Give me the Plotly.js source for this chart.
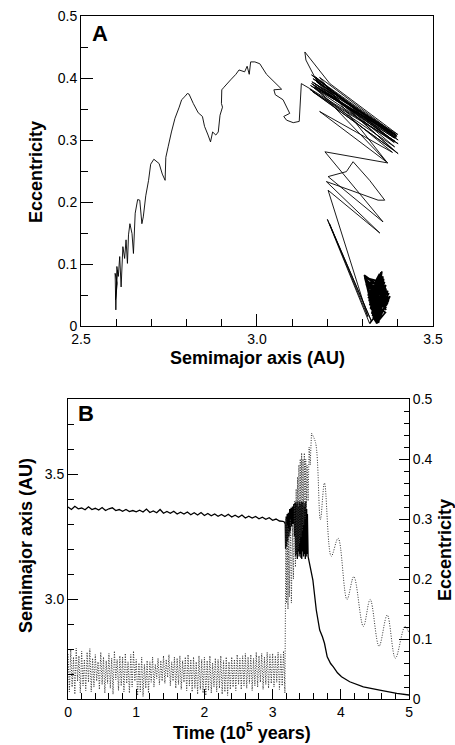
<!DOCTYPE html>
<html>
<head>
<meta charset="utf-8">
<script src="https://cdn.plot.ly/plotly-3.0.1.min.js"></script>
<style>html,body{margin:0;padding:0;background:#fff}#chart{width:455px;height:745px}</style>
</head>
<body>
<div id="chart"></div>
<script>
// ---------- Panel A: eccentricity vs semimajor axis ----------
// early libration (dense blob near a = 3.34 AU)
const blobA_a = [
 3.306,3.362,3.312,3.372,3.330,3.352,3.318,3.366,3.338,3.308,3.370,3.322,3.358,3.342,3.310,3.374,3.326,3.348,3.316,3.368,
 3.334,3.305,3.364,3.344,3.314,3.376,3.320,3.355,3.336,3.309,3.367,3.324,3.360,3.346,3.311,3.371,3.328,3.350,3.317,3.373,
 3.340,3.307,3.362,3.332,3.313,3.369,3.338,3.353,3.321,3.365,3.342,3.306,3.374,3.327,3.357,3.319,3.370,3.335,3.310,3.363,
 3.345,3.315,3.375,3.323,3.351,3.337,3.308,3.366,3.329,3.359,3.341,3.312,3.372,3.325,3.354,3.318,3.367,3.339,3.306,3.370,
 3.378,3.320
];
const blobA_e = [
 0.080,0.030,0.072,0.050,0.012,0.086,0.040,0.066,0.006,0.076,0.042,0.028,0.080,0.008,0.068,0.046,0.020,0.084,0.050,0.034,
 0.010,0.082,0.058,0.005,0.062,0.044,0.034,0.088,0.008,0.074,0.026,0.054,0.076,0.006,0.070,0.056,0.016,0.082,0.046,0.040,
 0.004,0.078,0.070,0.014,0.064,0.048,0.010,0.086,0.038,0.022,0.006,0.080,0.052,0.024,0.078,0.044,0.036,0.008,0.072,0.064,
 0.005,0.058,0.046,0.030,0.084,0.009,0.076,0.030,0.018,0.074,0.006,0.066,0.044,0.026,0.080,0.052,0.060,0.007,0.078,0.038,
 0.048,0.004
];
// transition, chaotic streaks and inward migration
const pathA_a = [
 3.320,3.200,3.325,3.206,3.315,3.202,3.349,3.197,3.344,3.363,3.320,3.273,3.254,3.202,3.358,3.193,3.372,3.178,3.385,
 3.160,3.396,3.155,3.401,3.164,3.391,3.150,3.401,3.169,3.386,3.159,3.396,3.174,3.377,3.155,3.391,3.164,3.368,3.178,3.396,
 3.162,3.401,3.158,3.385,3.168,3.398,3.152,3.390,3.166,3.380,3.156,3.400,
 3.207,3.136,3.139,3.170,3.394,3.160,3.392,3.150,
 3.126,3.120,3.103,3.084,3.076,3.093,3.074,3.052,3.048,3.070,3.027,3.008,2.994,2.982,2.978,2.972,2.965,2.949,2.940,2.925,
 2.906,2.900,2.899,2.902,2.895,2.890,2.883,2.874,2.868,2.861,2.851,2.845,2.833,2.819,2.807,2.802,2.795,2.786,2.779,2.767,
 2.757,2.748,2.741,2.739,2.731,2.722,2.707,2.698,2.692,2.684,2.677,2.673,2.667,2.661,2.654,2.649,2.645,2.639,2.635,2.632,
 2.628,2.624,2.619,2.614,2.610,2.606,2.602,2.599,2.597,2.603,2.598,2.604
];
const pathA_e = [
 0.004,0.172,0.008,0.165,0.015,0.219,0.150,0.233,0.203,0.203,0.235,0.265,0.249,0.241,0.168,0.281,0.263,0.346,0.280,
 0.385,0.308,0.405,0.300,0.397,0.289,0.382,0.278,0.394,0.311,0.399,0.305,0.383,0.313,0.391,0.303,0.386,0.265,0.401,0.308,
 0.392,0.294,0.378,0.285,0.398,0.306,0.388,0.296,0.402,0.302,0.394,0.309,
 0.391,0.442,0.429,0.395,0.304,0.389,0.298,0.383,
 0.391,0.330,0.328,0.332,0.338,0.343,0.365,0.373,0.381,0.382,0.406,0.423,0.426,0.426,0.406,0.419,0.410,0.413,0.406,0.397,
 0.385,0.381,0.359,0.353,0.340,0.313,0.308,0.313,0.297,0.308,0.322,0.338,0.344,0.359,0.374,0.375,0.370,0.365,0.353,0.335,
 0.313,0.290,0.272,0.235,0.245,0.262,0.269,0.261,0.235,0.210,0.176,0.165,0.203,0.204,0.182,0.117,0.149,0.165,0.147,0.101,
 0.139,0.109,0.128,0.063,0.112,0.080,0.096,0.026,0.085,0.069,0.042,0.090
];

// ---------- Panel B: semimajor axis vs time (solid, left axis) ----------
const timeB_a = [
 0.00,0.05,0.10,0.15,0.20,0.25,0.30,0.35,0.40,0.45,0.50,0.55,0.60,0.65,0.70,0.75,0.80,0.85,0.90,0.95,
 1.00,1.05,1.10,1.15,1.20,1.25,1.30,1.35,1.40,1.45,1.50,1.55,1.60,1.65,1.70,1.75,1.80,1.85,1.90,1.95,
 2.00,2.05,2.10,2.15,2.20,2.25,2.30,2.35,2.40,2.45,2.50,2.55,2.60,2.65,2.70,2.75,2.80,2.85,2.90,2.95,
 3.00,3.05,3.10,3.15,
 3.170,3.185,3.190,3.198,3.205,3.213,3.220,3.230,3.240,3.250,3.260,3.270,3.280,3.290,3.300,3.310,3.320,3.330,
 3.336,3.343,3.349,3.356,3.362,3.369,3.375,3.382,3.388,3.395,3.401,3.408,3.414,3.421,3.427,3.434,3.440,3.447,
 3.453,3.460,3.466,3.473,3.479,3.486,3.492,3.499,3.505,3.510,3.520,
 3.55,3.59,3.64,3.69,3.73,3.76,3.80,3.85,3.89,3.95,4.01,4.13,4.33,4.57,4.82,5.00
];
const semimajorB = [
 3.368,3.358,3.371,3.361,3.364,3.357,3.369,3.358,3.363,3.356,3.366,3.354,3.361,3.365,3.354,3.358,3.351,3.358,3.350,3.354,
 3.349,3.355,3.348,3.360,3.346,3.352,3.345,3.358,3.343,3.350,3.343,3.351,3.340,3.347,3.340,3.348,3.337,3.345,3.336,3.346,
 3.334,3.342,3.333,3.340,3.331,3.338,3.330,3.339,3.328,3.335,3.327,3.336,3.324,3.331,3.324,3.330,3.321,3.327,3.319,3.325,
 3.315,3.320,3.312,3.311,
 3.308,3.300,3.200,3.330,3.210,3.340,3.230,3.345,3.250,3.360,3.270,3.365,3.290,3.370,3.300,3.380,3.250,3.385,
 3.170,3.390,3.180,3.380,3.160,3.390,3.190,3.370,3.170,3.390,3.180,3.380,3.165,3.390,3.160,3.385,3.190,3.390,
 3.170,3.370,3.180,3.385,3.160,3.390,3.170,3.360,3.180,3.340,3.170,
 3.130,3.076,2.956,2.876,2.849,2.823,2.769,2.742,2.729,2.705,2.689,2.669,2.649,2.636,2.623,2.616
];

// ---------- Panel B: eccentricity vs time (dotted, right axis) ----------
const timeB_e = [
 0.00,0.02,0.04,0.06,0.08,0.10,0.12,0.14,0.16,0.18,0.20,0.22,0.24,0.26,0.28,0.30,0.32,0.34,0.36,0.38,
 0.40,0.42,0.44,0.46,0.48,0.50,0.52,0.54,0.56,0.58,0.60,0.62,0.64,0.66,0.68,0.70,0.72,0.74,0.76,0.78,
 0.80,0.82,0.84,0.86,0.88,0.90,0.92,0.94,0.96,0.98,1.00,1.02,1.04,1.06,1.08,1.10,1.12,1.14,1.16,1.18,
 1.20,1.22,1.24,1.26,1.28,1.30,1.32,1.34,1.36,1.38,1.40,1.42,1.44,1.46,1.48,1.50,1.52,1.54,1.56,1.58,
 1.60,1.62,1.64,1.66,1.68,1.70,1.72,1.74,1.76,1.78,1.80,1.82,1.84,1.86,1.88,1.90,1.92,1.94,1.96,1.98,
 2.00,2.02,2.04,2.06,2.08,2.10,2.12,2.14,2.16,2.18,2.20,2.22,2.24,2.26,2.28,2.30,2.32,2.34,2.36,2.38,
 2.40,2.42,2.44,2.46,2.48,2.50,2.52,2.54,2.56,2.58,2.60,2.62,2.64,2.66,2.68,2.70,2.72,2.74,2.76,2.78,
 2.80,2.82,2.84,2.86,2.88,2.90,2.92,2.94,2.96,2.98,3.00,3.02,3.04,3.06,3.08,3.10,3.12,3.14,3.16,
 3.180,3.195,3.205,3.215,3.225,3.235,3.245,3.260,3.275,3.290,3.305,3.320,3.335,3.345,3.355,3.365,3.375,3.385,3.395,3.405,
 3.415,3.425,3.435,3.445,3.455,3.465,3.475,3.485,3.495,3.505,3.520,3.535,3.550,3.570
];
const eccentricityB = [
 0.075,0.012,0.082,0.020,0.070,0.008,0.085,0.030,0.072,0.010,
 0.080,0.022,0.066,0.014,0.078,0.028,0.084,0.012,0.068,0.020,
 0.074,0.030,0.062,0.016,0.078,0.024,0.070,0.010,0.064,0.026,
 0.076,0.018,0.068,0.008,0.080,0.032,0.066,0.014,0.072,0.022,
 0.070,0.012,0.076,0.026,0.062,0.010,0.074,0.020,0.080,0.030,
 0.066,0.006,0.060,0.012,0.070,0.004,0.058,0.018,0.064,0.010,
 0.062,0.028,0.070,0.020,0.058,0.034,0.068,0.024,0.064,0.030,
 0.072,0.026,0.066,0.036,0.074,0.022,0.062,0.030,0.070,0.018,
 0.068,0.024,0.072,0.016,0.064,0.028,0.070,0.014,0.074,0.022,
 0.066,0.012,0.070,0.018,0.062,0.008,0.072,0.016,0.066,0.010,
 0.070,0.006,0.064,0.014,0.072,0.010,0.060,0.020,0.068,0.012,
 0.066,0.018,0.072,0.008,0.064,0.012,0.070,0.006,0.062,0.016,
 0.070,0.020,0.066,0.014,0.074,0.024,0.068,0.016,0.072,0.022,
 0.076,0.018,0.070,0.026,0.074,0.014,0.068,0.022,0.078,0.020,
 0.072,0.028,0.076,0.016,0.070,0.024,0.078,0.018,0.074,0.026,
 0.076,0.020,0.072,0.028,0.078,0.016,0.074,0.022,0.080,
 0.010,0.300,0.160,0.290,0.150,0.285,0.170,0.300,0.160,0.290,0.200,0.330,0.220,0.350,0.240,0.370,0.250,0.390,0.260,0.400,
 0.270,0.410,0.280,0.400,0.290,0.410,0.300,0.400,0.320,0.390,0.330,0.420,0.390,0.443
];
// smooth post-resonance decay of eccentricity
const timeB_eDecay = [3.57,3.63,3.70,3.76,3.86,3.96,4.09,4.19,4.33,4.43,4.56,4.68,4.80,4.94,5.00];
const eccentricityB_decay = [0.443,0.427,0.299,0.360,0.238,0.268,0.166,0.204,0.121,0.166,0.088,0.140,0.068,0.121,0.110];

const FONT = 'Liberation Sans, Arial, Helvetica, sans-serif';
const tickFont = {family: FONT, size: 14, color: '#000'};
const titleFont = {family: FONT, size: 18, color: '#000', weight: 'bold'};
const dotLine = {color: '#333', width: 1, dash: '1px,1.5px', simplify: false};

const traces = [
  {x: blobA_a, y: blobA_e, xaxis: 'x', yaxis: 'y', mode: 'lines',
   line: {color: '#000', width: 1.6, simplify: false}, hoverinfo: 'skip', showlegend: false},
  {x: pathA_a, y: pathA_e, xaxis: 'x', yaxis: 'y', mode: 'lines',
   line: {color: '#000', width: 0.9, simplify: false}, hoverinfo: 'skip', showlegend: false},
  {x: timeB_e, y: eccentricityB, xaxis: 'x2', yaxis: 'y3', mode: 'lines',
   line: dotLine, hoverinfo: 'skip', showlegend: false},
  {x: timeB_eDecay, y: eccentricityB_decay, xaxis: 'x2', yaxis: 'y3', mode: 'lines',
   line: Object.assign({}, dotLine, {shape: 'spline', smoothing: 1}), hoverinfo: 'skip', showlegend: false},
  {x: timeB_a, y: semimajorB, xaxis: 'x2', yaxis: 'y2', mode: 'lines',
   line: {color: '#000', width: 1.3, simplify: false}, hoverinfo: 'skip', showlegend: false}
];

const axBase = {showline: true, linecolor: '#000', linewidth: 1, showgrid: false, zeroline: false,
  ticks: 'inside', tickcolor: '#000', tickwidth: 1, tickfont: tickFont, automargin: false, fixedrange: true,
  tickmode: 'linear'};

const layout = {
  width: 455, height: 745,
  margin: {l: 0, r: 0, t: 0, b: 0, pad: 0},
  paper_bgcolor: '#fff', plot_bgcolor: '#fff',
  showlegend: false,
  xaxis: Object.assign({}, axBase, {domain: [0.178, 0.9516], anchor: 'y', range: [2.5, 3.5], mirror: true,
    tick0: 2.5, dtick: 0.5, tickformat: '.1f', ticklen: 12,
    minor: {ticks: 'inside', ticklen: 7, dtick: 0.1, tickcolor: '#000', tickwidth: 1}}),
  yaxis: Object.assign({}, axBase, {domain: [0.5624, 0.9785], anchor: 'x', range: [0, 0.5], mirror: true,
    tick0: 0, dtick: 0.1, ticklen: 12,
    minor: {ticks: 'inside', ticklen: 7, dtick: 0.05, tickcolor: '#000', tickwidth: 1}}),
  xaxis2: Object.assign({}, axBase, {domain: [0.1495, 0.899], anchor: 'y2', range: [0, 5], mirror: true,
    tick0: 0, dtick: 1, ticklen: 10,
    minor: {ticks: 'inside', ticklen: 6, dtick: 0.2, tickcolor: '#000', tickwidth: 1}}),
  yaxis2: Object.assign({}, axBase, {domain: [0.0617, 0.4644], anchor: 'x2', range: [2.6, 3.8], mirror: true,
    tick0: 3.0, dtick: 0.5, tickformat: '.1f', ticklen: 10,
    minor: {ticks: 'inside', ticklen: 6, dtick: 0.1, tickcolor: '#000', tickwidth: 1}}),
  yaxis3: Object.assign({}, axBase, {overlaying: 'y2', anchor: 'x2', side: 'right', range: [0, 0.5],
    tick0: 0, dtick: 0.1, ticklen: 10,
    minor: {ticks: 'inside', ticklen: 5, dtick: 0.02, tickcolor: '#000', tickwidth: 1}}),
  annotations: [
    {text: '<b>A</b>', xref: 'paper', yref: 'paper', x: 0.2187, y: 0.9544, showarrow: false,
     font: {family: FONT, size: 22, color: '#000'}, xanchor: 'center', yanchor: 'middle'},
    {text: '<b>B</b>', xref: 'paper', yref: 'paper', x: 0.189, y: 0.4443, showarrow: false,
     font: {family: FONT, size: 22, color: '#000'}, xanchor: 'center', yanchor: 'middle'},
    {text: '<b>Eccentricity</b>', xref: 'paper', yref: 'paper', x: 36/455, y: 1 - 172/745, textangle: -90, showarrow: false,
     font: titleFont, xanchor: 'center', yanchor: 'middle'},
    {text: '<b>Semimajor axis (AU)</b>', xref: 'paper', yref: 'paper', x: 257/455, y: 1 - 358/745, showarrow: false,
     font: titleFont, xanchor: 'center', yanchor: 'middle'},
    {text: '<b>Semimajor axis (AU)</b>', xref: 'paper', yref: 'paper', x: 26/455, y: 1 - 546/745, textangle: -90, showarrow: false,
     font: titleFont, xanchor: 'center', yanchor: 'middle'},
    {text: '<b>Eccentricity</b>', xref: 'paper', yref: 'paper', x: 445/455, y: 1 - 550/745, textangle: -90, showarrow: false,
     font: titleFont, xanchor: 'center', yanchor: 'middle'},
    {text: '<b>Time (10<sup>5</sup> years)</b>', xref: 'paper', yref: 'paper', x: 242/455, y: 1 - 731/745, showarrow: false,
     font: titleFont, xanchor: 'center', yanchor: 'middle'}
  ]
};

Plotly.newPlot('chart', traces, layout, {staticPlot: true, displayModeBar: false});
</script>
</body>
</html>
